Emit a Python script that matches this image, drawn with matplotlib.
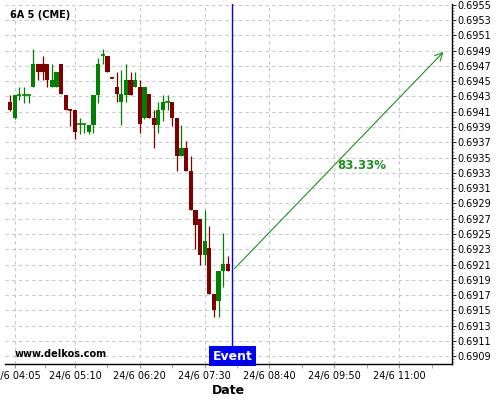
import matplotlib
matplotlib.use("Agg")
import matplotlib.pyplot as plt
import matplotlib.dates as mdates
import matplotlib.transforms as mtransforms
from matplotlib.ticker import AutoMinorLocator, MultipleLocator, FormatStrFormatter
import pandas as pd
import numpy as np

# 5 minute candles, 24/6 04:00 .. 07:55
times = pd.date_range("2015-06-24 04:00", periods=48, freq="5min")
opens = [0.69423, 0.69402, 0.69432, 0.69432, 0.69432, 0.69443, 0.69472, 0.69472,
         0.69472, 0.69443, 0.69443, 0.69472, 0.69432, 0.69413, 0.69412, 0.69394,
         0.69394, 0.69383, 0.69393, 0.69432, 0.69484, 0.69483, 0.69455, 0.69443,
         0.69423, 0.69432, 0.69452, 0.69443, 0.69443, 0.69402, 0.69433, 0.69402,
         0.69393, 0.69412, 0.69423, 0.69423, 0.69402, 0.69352, 0.69362, 0.69333,
         0.69282, 0.69270, 0.69222, 0.69232, 0.69172, 0.69162, 0.69202, 0.69211]
highs = [0.69432, 0.69432, 0.69442, 0.69442, 0.69432, 0.69492, 0.69472, 0.69483,
         0.69472, 0.69472, 0.69462, 0.69472, 0.69432, 0.69413, 0.69412, 0.69402,
         0.69394, 0.69393, 0.69432, 0.69481, 0.69492, 0.69483, 0.69455, 0.69462,
         0.69465, 0.69472, 0.69462, 0.69462, 0.69452, 0.69443, 0.69433, 0.69412,
         0.69423, 0.69432, 0.69432, 0.69423, 0.69402, 0.69393, 0.69372, 0.69352,
         0.69282, 0.69270, 0.69282, 0.69261, 0.69172, 0.69202, 0.69251, 0.69221]
lows = [0.69411, 0.69401, 0.69425, 0.69422, 0.69422, 0.69442, 0.69452, 0.69452,
        0.69443, 0.69443, 0.69443, 0.69433, 0.69412, 0.69391, 0.69374, 0.69381,
        0.69382, 0.69381, 0.69382, 0.69422, 0.69472, 0.69462, 0.69454, 0.69423,
        0.69393, 0.69423, 0.69432, 0.69443, 0.69382, 0.69401, 0.69402, 0.69362,
        0.69382, 0.69398, 0.69412, 0.69391, 0.69332, 0.69352, 0.69333, 0.69282,
        0.69231, 0.69210, 0.69210, 0.69172, 0.69141, 0.69141, 0.69181, 0.69202]
closes = [0.69412, 0.69432, 0.69432, 0.69432, 0.69432, 0.69472, 0.69462, 0.69462,
          0.69452, 0.69452, 0.69462, 0.69433, 0.69412, 0.69412, 0.69383, 0.69394,
          0.69394, 0.69393, 0.69432, 0.69472, 0.69484, 0.69462, 0.69454, 0.69433,
          0.69433, 0.69452, 0.69432, 0.69452, 0.69394, 0.69443, 0.69402, 0.69393,
          0.69412, 0.69423, 0.69423, 0.69402, 0.69352, 0.69362, 0.69333, 0.69282,
          0.69262, 0.69222, 0.69241, 0.69172, 0.69151, 0.69202, 0.69211, 0.69202]

event_time = pd.Timestamp("2015-06-24 08:00")
target_time = pd.Timestamp("2015-06-24 11:50")
target_price = 0.69491
pct_label = "83.33%"
pct_pos = (pd.Timestamp("2015-06-24 10:20"), 0.69340)

xtick_times = ["04:05", "05:10", "06:20", "07:30", "08:40", "09:50", "11:00"]
xminor_times = ["04:37:30", "05:45", "06:55", "08:05", "09:15", "10:25", "11:35"]

green = "#008000"
red = "#800000"
arrow_green = "#1f8f1f"

fig = plt.figure(figsize=(5, 4), dpi=100)
ax = fig.add_axes([0.01, 0.09, 0.894, 0.90])

x = mdates.date2num(times)
o = np.array(opens)
h = np.array(highs)
l = np.array(lows)
c = np.array(closes)
up = c >= o
cols = np.where(up, green, red)
w = 4.6 / 1440

ax.vlines(x, l, h, colors=cols, linewidth=0.9, zorder=2)
ax.bar(x, c - o, bottom=o, width=w, color=cols, linewidth=0, zorder=3)
flat = np.abs(c - o) < 0.000015
ax.hlines(c[flat], x[flat] - w / 2, x[flat] + w / 2, colors=cols[flat], linewidth=1.2, zorder=3)

# event line and projection arrow
ev = mdates.date2num(event_time)
ax.axvline(ev, color="blue", linewidth=1.0, zorder=4)
ax.annotate("", xy=(mdates.date2num(target_time), target_price),
            xytext=(ev, closes[-1]),
            arrowprops=dict(arrowstyle="->", color=arrow_green, lw=0.8, mutation_scale=14),
            zorder=5)
ax.text(mdates.date2num(pct_pos[0]), pct_pos[1], pct_label, color=arrow_green,
        fontsize=8.5, fontweight="bold", ha="center", va="center")

trans = mtransforms.blended_transform_factory(ax.transData, ax.transAxes)
ax.text(ev, 0.004, "Event", transform=trans, color="white", fontsize=9,
        fontweight="bold", ha="center", va="bottom",
        bbox=dict(boxstyle="square,pad=0.28", fc="blue", ec="none"), zorder=6)

ax.text(0.012, 0.97, "6A 5 (CME)", transform=ax.transAxes, fontsize=7,
        fontweight="bold", ha="left", va="center")
ax.text(0.022, 0.028, "www.delkos.com", transform=ax.transAxes, fontsize=7,
        fontweight="bold", ha="left", va="center")

# axes
ax.set_xlim(mdates.date2num(pd.Timestamp("2015-06-24 03:54:30")),
            mdates.date2num(pd.Timestamp("2015-06-24 11:57")))
ax.set_ylim(0.69080, 0.69551)

major_x = [mdates.date2num(pd.Timestamp("2015-06-24 " + t)) for t in xtick_times]
minor_x = [mdates.date2num(pd.Timestamp("2015-06-24 " + t)) for t in xminor_times]
ax.set_xticks(major_x)
ax.set_xticklabels(["24/6 " + t for t in xtick_times])
ax.set_xticks(minor_x, minor=True)

ax.yaxis.tick_right()
ax.yaxis.set_major_locator(MultipleLocator(0.0002, offset=0.0001))
ax.yaxis.set_minor_locator(AutoMinorLocator(5))
ax.yaxis.set_major_formatter(FormatStrFormatter("%.4f"))

ax.tick_params(axis="x", which="both", length=3, color="#999999", labelsize=7, pad=2)
ax.tick_params(axis="y", which="major", length=3, color="#333333", labelsize=7, pad=1)
ax.tick_params(axis="y", which="minor", length=1.5, color="#888888")

for s in ["left", "top"]:
    ax.spines[s].set_visible(False)
ax.spines["bottom"].set_linewidth(1.0)
ax.spines["right"].set_linewidth(1.0)

ax.grid(True, which="major", color="#c8c8c8", linestyle=(0, (3, 3)), linewidth=0.8)
ax.set_axisbelow(True)

ax.set_xlabel("Date", fontsize=9, fontweight="bold", labelpad=2)

fig.savefig("out.png", dpi=100)
